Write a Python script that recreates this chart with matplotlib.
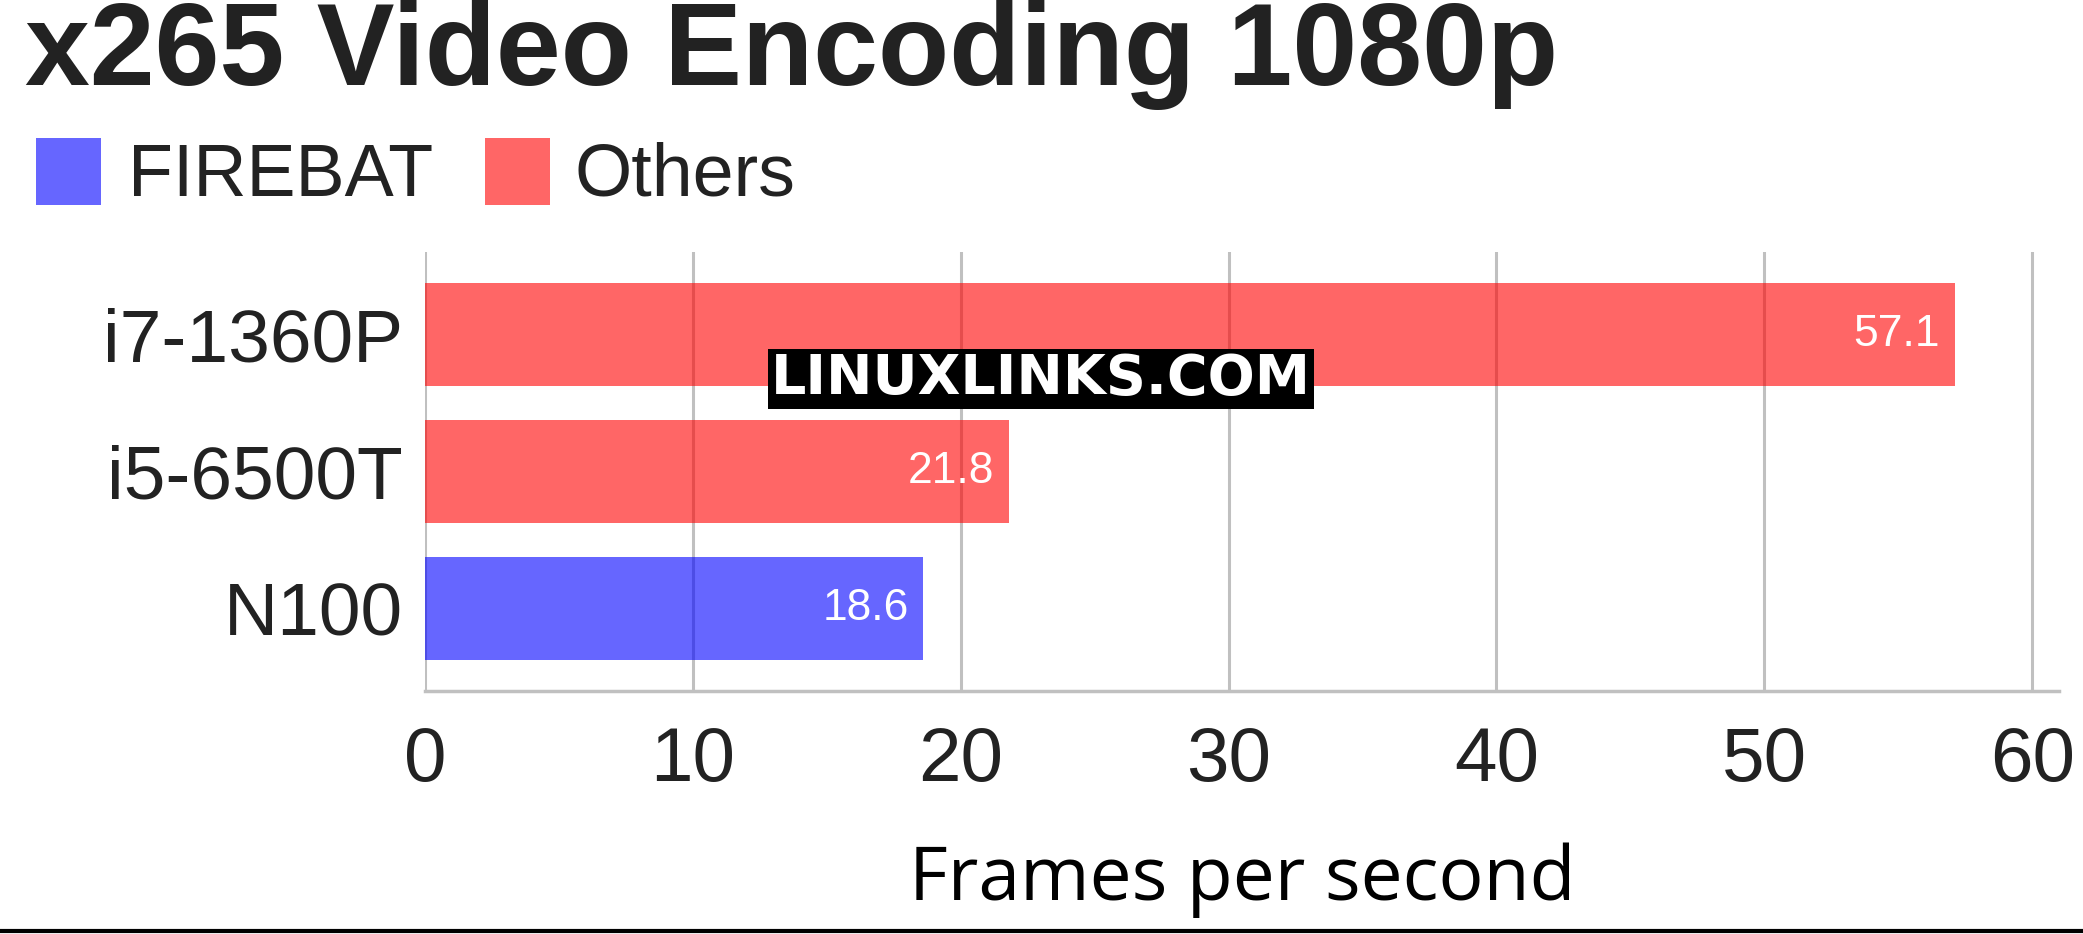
import matplotlib.pyplot as plt
from matplotlib.patches import Rectangle
from matplotlib.lines import Line2D
import numpy as np

# chart data
cpus = ['N100', 'i5-6500T', 'i7-1360P']
fps = [18.6, 21.8, 57.1]
groups = ['FIREBAT', 'Others', 'Others']
group_colors = {'FIREBAT': '#0000ff', 'Others': '#ff0000'}
xticks = [0, 10, 20, 30, 40, 50, 60]

W, H = 2083, 934
fig = plt.figure(figsize=(W / 100, H / 100), dpi=100)
ax = fig.add_axes([425 / W, 1 - 691 / H, (2059 - 425) / W, (691 - 252) / H])

y = np.arange(len(cpus))
colors = [group_colors[g] for g in groups]
ax.set_axisbelow(True)
ax.grid(axis='x', color='#c0c0c0', linewidth=2.2)
bars = ax.barh(y, fps, height=0.75, color=colors, alpha=0.6, zorder=3)

# value labels inside the bar ends
for b, v in zip(bars, fps):
    ax.text(v - 0.55, b.get_y() + b.get_height() / 2, '%.1f' % v,
            ha='right', va='center', color='white', fontsize=32,
            family='Liberation Sans', zorder=4)

ax.set_xlim(0, 61)
ax.set_ylim(-0.6, 2.6)
ax.set_xticks(xticks)
ax.set_yticks(y)
ax.set_yticklabels(cpus)
ax.tick_params(length=0)
ax.tick_params(axis='x', pad=25, labelsize=55, labelcolor='#222222')
ax.tick_params(axis='y', pad=16, labelsize=54, labelcolor='#222222')
for lab in ax.get_xticklabels() + ax.get_yticklabels():
    lab.set_family('Liberation Sans')

for s in ['top', 'right', 'left']:
    ax.spines[s].set_visible(False)
ax.spines['bottom'].set_color('#c0c0c0')
ax.spines['bottom'].set_linewidth(2.5)

ax.set_xlabel('Frames per second', fontsize=54, family='Open Sans',
              color='black', labelpad=33)

# title
fig.text(25 / W, 1 - 85 / H, 'x265 Video Encoding 1080p', fontsize=84,
         fontweight='bold', family='Liberation Sans', color='#222222',
         va='baseline', ha='left')

# legend
for x0, tx, name in [(36, 128, 'FIREBAT'), (485, 574, 'Others')]:
    fig.patches.append(Rectangle((x0 / W, 1 - 205 / H), 65 / W, 67 / H,
                                 transform=fig.transFigure,
                                 color=group_colors[name], alpha=0.6,
                                 linewidth=0))
    fig.text(tx / W, 1 - 176 / H, name, fontsize=53, family='Liberation Sans',
             color='#222222', va='center', ha='left')

# watermark
fig.text(1041 / W, 1 - 379 / H, 'LINUXLINKS.COM', fontsize=40,
         fontweight='bold', family='DejaVu Sans', color='white',
         ha='center', va='center', zorder=10,
         bbox=dict(facecolor='black', edgecolor='none', pad=2))

# bottom rule
fig.lines.append(Line2D([0, 1], [3 / H, 3 / H], transform=fig.transFigure,
                        color='black', linewidth=3))

fig.savefig('out.png', dpi=100)
